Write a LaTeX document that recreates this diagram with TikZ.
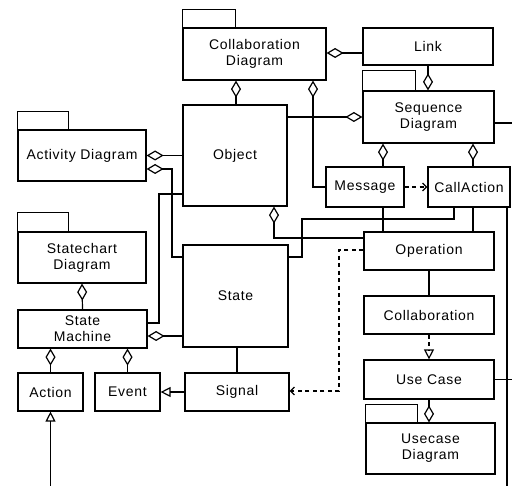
\documentclass[tikz,border=0pt]{standalone}
\usepackage{fontspec}
\setmainfont{Liberation Sans}[LetterSpace=5]
\usetikzlibrary{arrows.meta}

\begin{document}
\begin{tikzpicture}[x=1pt,y=-1pt,
  box/.style={draw, line width=1.2pt, inner sep=0pt, align=center,
    font=\fontsize{14}{16}\selectfont},
  tabbox/.style={draw, line width=1.2pt},
  conn/.style={line width=1.2pt},
  agg/.style={conn, {Diamond[open,length=17pt,width=10pt]}-},
  gen/.style={conn, -{Triangle[open,length=10pt,width=10pt]}},
  dep/.style={conn, dash pattern=on 4pt off 3.5pt,
    -{Straight Barb[length=4pt,width=8pt]}},
  realize/.style={conn, dash pattern=on 4pt off 3.5pt,
    -{Triangle[open,length=10pt,width=10pt]}}]

\fill[white] (0,0) rectangle (512,486);
\useasboundingbox (0,0) rectangle (512,486);

% ---- classes and packages ----
\node[box, minimum width=143pt, minimum height=52pt] (cdiag) at (254.5,54) {Collaboration\\Diagram};
\node[box, minimum width=130pt, minimum height=37pt] (link)  at (428,46.5) {Link};
\node[box, minimum width=131pt, minimum height=52pt] (seqd)  at (428.5,117) {Sequence\\Diagram};
\node[box, minimum width=128pt, minimum height=51pt] (actd)  at (82,155.5) {Activity Diagram};
\node[box, minimum width=104pt, minimum height=101pt] (obj)  at (235,155.5) {Object};
\node[box, minimum width=78pt, minimum height=40pt]  (msg)   at (365,187) {Message};
\node[box, minimum width=82pt, minimum height=40pt]  (call)  at (469,187) {CallAction};
\node[box, minimum width=128pt, minimum height=51pt] (scd)   at (82,257.5) {Statechart\\Diagram};
\node[box, minimum width=105pt, minimum height=102pt] (state) at (235.5,296) {State};
\node[box, minimum width=130pt, minimum height=38pt] (oper)  at (429,251) {Operation};
\node[box, minimum width=129pt, minimum height=38pt] (sm)    at (82.5,329) {State\\Machine};
\node[box, minimum width=130pt, minimum height=38pt] (coll)  at (429,315) {Collaboration};
\node[box, minimum width=65pt, minimum height=38pt]  (act)   at (50.5,392) {Action};
\node[box, minimum width=65pt, minimum height=38pt]  (evt)   at (127.5,392) {Event};
\node[box, minimum width=104pt, minimum height=38pt] (sig)   at (237,392) {Signal};
\node[box, minimum width=130pt, minimum height=39pt] (uc)    at (429,379.5) {Use Case};
\node[box, minimum width=129pt, minimum height=51pt] (ucd)   at (430.5,448.5) {Usecase\\Diagram};

% ---- package tabs ----
\draw[tabbox] (cdiag.north west) rectangle ++(53,-18);
\draw[tabbox] (seqd.north west)  rectangle ++(53,-20);
\draw[tabbox] (actd.north west)  rectangle ++(51,-18);
\draw[tabbox] (scd.north west)   rectangle ++(51,-19);
\draw[tabbox] (ucd.north west)   rectangle ++(52,-18);

% ---- free ends at the border ----
\coordinate (seqout)  at (512,123);
\coordinate (callout) at (507,486);
\coordinate (ucout)   at (512,379.5);
\coordinate (actin)   at (50.5,486);

% ---- aggregations ----
\draw[agg] (cdiag.east |- 0,53) -- (link.west |- 0,53);
\draw[agg] (seqd.north -| link.south) -- (link.south);
\draw[agg] (cdiag.south -| 236,0) -- (obj.north -| 236,0);
\draw[agg] (cdiag.south -| 313,0) |- (msg.west);
\draw[agg] (seqd.west) -- (obj.east |- seqd.west);
\draw[agg] (seqd.south -| 383,0) -- (msg.north -| 383,0);
\draw[agg] (seqd.south -| 473,0) -- (call.north -| 473,0);
\draw[agg] (obj.south -| 274,0) |- (oper.west |- 0,238);
\draw[agg] (ucd.north -| uc.south) -- (uc.south);
\draw[agg] (actd.east) -- (obj.west |- actd.east);
\draw[agg] (actd.east |- 0,169) -| (172,257) -- (state.west |- 0,257);
\draw[agg] (scd.south) -- (sm.north);
\draw[agg] (sm.east |- 0,336) -- (state.west |- 0,336);
\draw[agg] (sm.south -| act.north) -- (act.north);
\draw[agg] (sm.south -| evt.north) -- (evt.north);

% ---- plain associations ----
\draw[conn] (seqd.east |- seqout) -- (seqout);
\draw[conn] (call.south -| callout) -- (callout);
\draw[conn] (uc.east) -- (ucout);
\draw[conn] (msg.south -| 383,0) -- (oper.north -| 383,0);
\draw[conn] (call.south -| 473,0) -- (oper.north -| 473,0);
\draw[conn] (call.south -| 454,0) |- (302,219) |- (state.east |- 0,257);
\draw[conn] (obj.west |- 0,194) -| (159,323) -- (sm.east |- 0,323);
\draw[conn] (oper.south) -- (coll.north);
\draw[conn] (state.south -| sig.north) -- (sig.north);

% ---- dependencies and generalizations ----
\draw[dep] (msg.east) -- (call.west);
\draw[dep] (oper.west |- 0,250) -| (339,391) -- (sig.east |- 0,391);
\draw[realize] (coll.south) -- (uc.north);
\draw[gen] (sig.west) -- (evt.east);
\draw[gen] (actin) -- (act.south);

\end{tikzpicture}
\end{document}
